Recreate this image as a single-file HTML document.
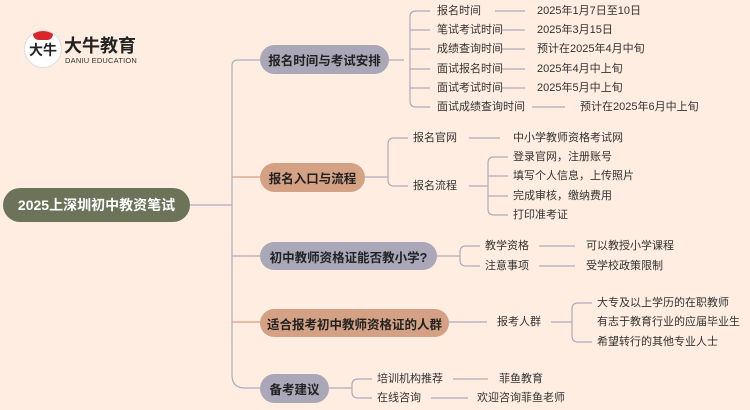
<!DOCTYPE html>
<html><head><meta charset="utf-8"><style>
body{margin:0;width:750px;height:410px;background:#feede0;position:relative;overflow:hidden;font-family:"Liberation Sans","Noto Sans CJK SC",sans-serif}
.n{position:absolute;border-radius:15px;font-weight:bold;font-size:12.5px;color:#222;display:flex;align-items:center;justify-content:center}
.g{background:#a9a7b8}.b{background:#d4a185}
.t{position:absolute;font-size:11px;color:#333;line-height:14px;transform:translateY(-7px);white-space:nowrap}
</style></head><body>
<svg width="750" height="410" style="position:absolute;left:0;top:0" fill="none" stroke-width="1.2">
<g stroke="#aeabbb">
<path d="M190 205H232"/>
<path d="M238 60H260M232 66V375Q232 388 245 388H260"/>
<path d="M232 66Q232 60 238 60"/>
<path d="M232 256H260"/>
<path d="M389 60H404M410 17V101Q410 107 416 107H430M410 17Q410 11 416 11H430M410 30H430M410 49H430M410 69H430M410 88H430"/>
<path d="M495 11H525M502 30H525M502 49H525M502 69H525M502 88H525M532 107H565"/>
<path d="M365 177H388M388 144V180Q388 186 394 186H408M388 144Q388 138 394 138H408M469 138H500M469 186H488M488 163V209Q488 215 494 215H508M488 163Q488 157 494 157H508M488 176H508M488 196H508"/>
<path d="M437 256H460M460 252V260Q460 266 466 266H480M460 252Q460 246 466 246H480M539 246H575M539 266H575"/>
<path d="M449 322H487M551 322H572M572 309V336Q572 342 578 342H592M572 309Q572 303 578 303H592"/>
<path d="M329 388H352M352 385V392Q352 398 358 398H372M352 385Q352 379 358 379H372M453 379H488M431 398H468"/>
</g>
<g stroke="#d4a185"><path d="M232 177H260M232 322H260"/></g>
</svg>
<div style="position:absolute;left:24px;top:30px;width:36px;height:36px;border-radius:50%;background:#fff;border:1px solid #ddd;overflow:hidden"><div style="height:9px;background:#d9262b;margin:0 8px;border-radius:0 0 6px 6px"></div><div style="font-size:14px;font-weight:bold;color:#222;text-align:center;margin-top:0px">大牛</div></div>
<div style="position:absolute;left:64px;top:37px;font-size:18px;line-height:18px;font-weight:bold;color:#222">大牛教育</div>
<div style="position:absolute;left:65px;top:57px;font-size:7.5px;line-height:8px;color:#333;letter-spacing:0.2px">DANIU EDUCATION</div>
<div class="n" style="left:3px;top:188px;width:187px;height:34px;border-radius:17px;background:#6c7358;color:#fff;font-size:14px">2025上深圳初中教资笔试</div>
<div class="n g" style="left:260px;top:45px;width:129px;height:29px">报名时间与考试安排</div>
<div class="n b" style="left:260px;top:163px;width:105px;height:29px">报名入口与流程</div>
<div class="n g" style="left:260px;top:242px;width:177px;height:28px">初中教师资格证能否教小学?</div>
<div class="n b" style="left:260px;top:309px;width:189px;height:28px">适合报考初中教师资格证的人群</div>
<div class="n g" style="left:260px;top:374px;width:69px;height:29px">备考建议</div>
<div class="t" style="left:437px;top:11px">报名时间</div><div class="t" style="left:537px;top:11px">2025年1月7日至10日</div>
<div class="t" style="left:437px;top:30px">笔试考试时间</div><div class="t" style="left:537px;top:30px">2025年3月15日</div>
<div class="t" style="left:437px;top:49px">成绩查询时间</div><div class="t" style="left:537px;top:49px">预计在2025年4月中旬</div>
<div class="t" style="left:437px;top:69px">面试报名时间</div><div class="t" style="left:537px;top:69px">2025年4月中上旬</div>
<div class="t" style="left:437px;top:88px">面试考试时间</div><div class="t" style="left:537px;top:88px">2025年5月中上旬</div>
<div class="t" style="left:437px;top:107px">面试成绩查询时间</div><div class="t" style="left:580px;top:107px">预计在2025年6月中上旬</div>
<div class="t" style="left:413px;top:138px">报名官网</div><div class="t" style="left:513px;top:138px">中小学教师资格考试网</div>
<div class="t" style="left:413px;top:186px">报名流程</div>
<div class="t" style="left:513px;top:157px">登录官网，注册账号</div>
<div class="t" style="left:513px;top:176px">填写个人信息，上传照片</div>
<div class="t" style="left:513px;top:196px">完成审核，缴纳费用</div>
<div class="t" style="left:513px;top:215px">打印准考证</div>
<div class="t" style="left:485px;top:246px">教学资格</div><div class="t" style="left:586px;top:246px">可以教授小学课程</div>
<div class="t" style="left:485px;top:266px">注意事项</div><div class="t" style="left:586px;top:266px">受学校政策限制</div>
<div class="t" style="left:497px;top:322px">报考人群</div>
<div class="t" style="left:597px;top:303px">大专及以上学历的在职教师</div>
<div class="t" style="left:597px;top:322px">有志于教育行业的应届毕业生</div>
<div class="t" style="left:597px;top:342px">希望转行的其他专业人士</div>
<div class="t" style="left:377px;top:379px">培训机构推荐</div><div class="t" style="left:499px;top:379px">菲鱼教育</div>
<div class="t" style="left:377px;top:398px">在线咨询</div><div class="t" style="left:477px;top:398px">欢迎咨询菲鱼老师</div>
</body></html>
